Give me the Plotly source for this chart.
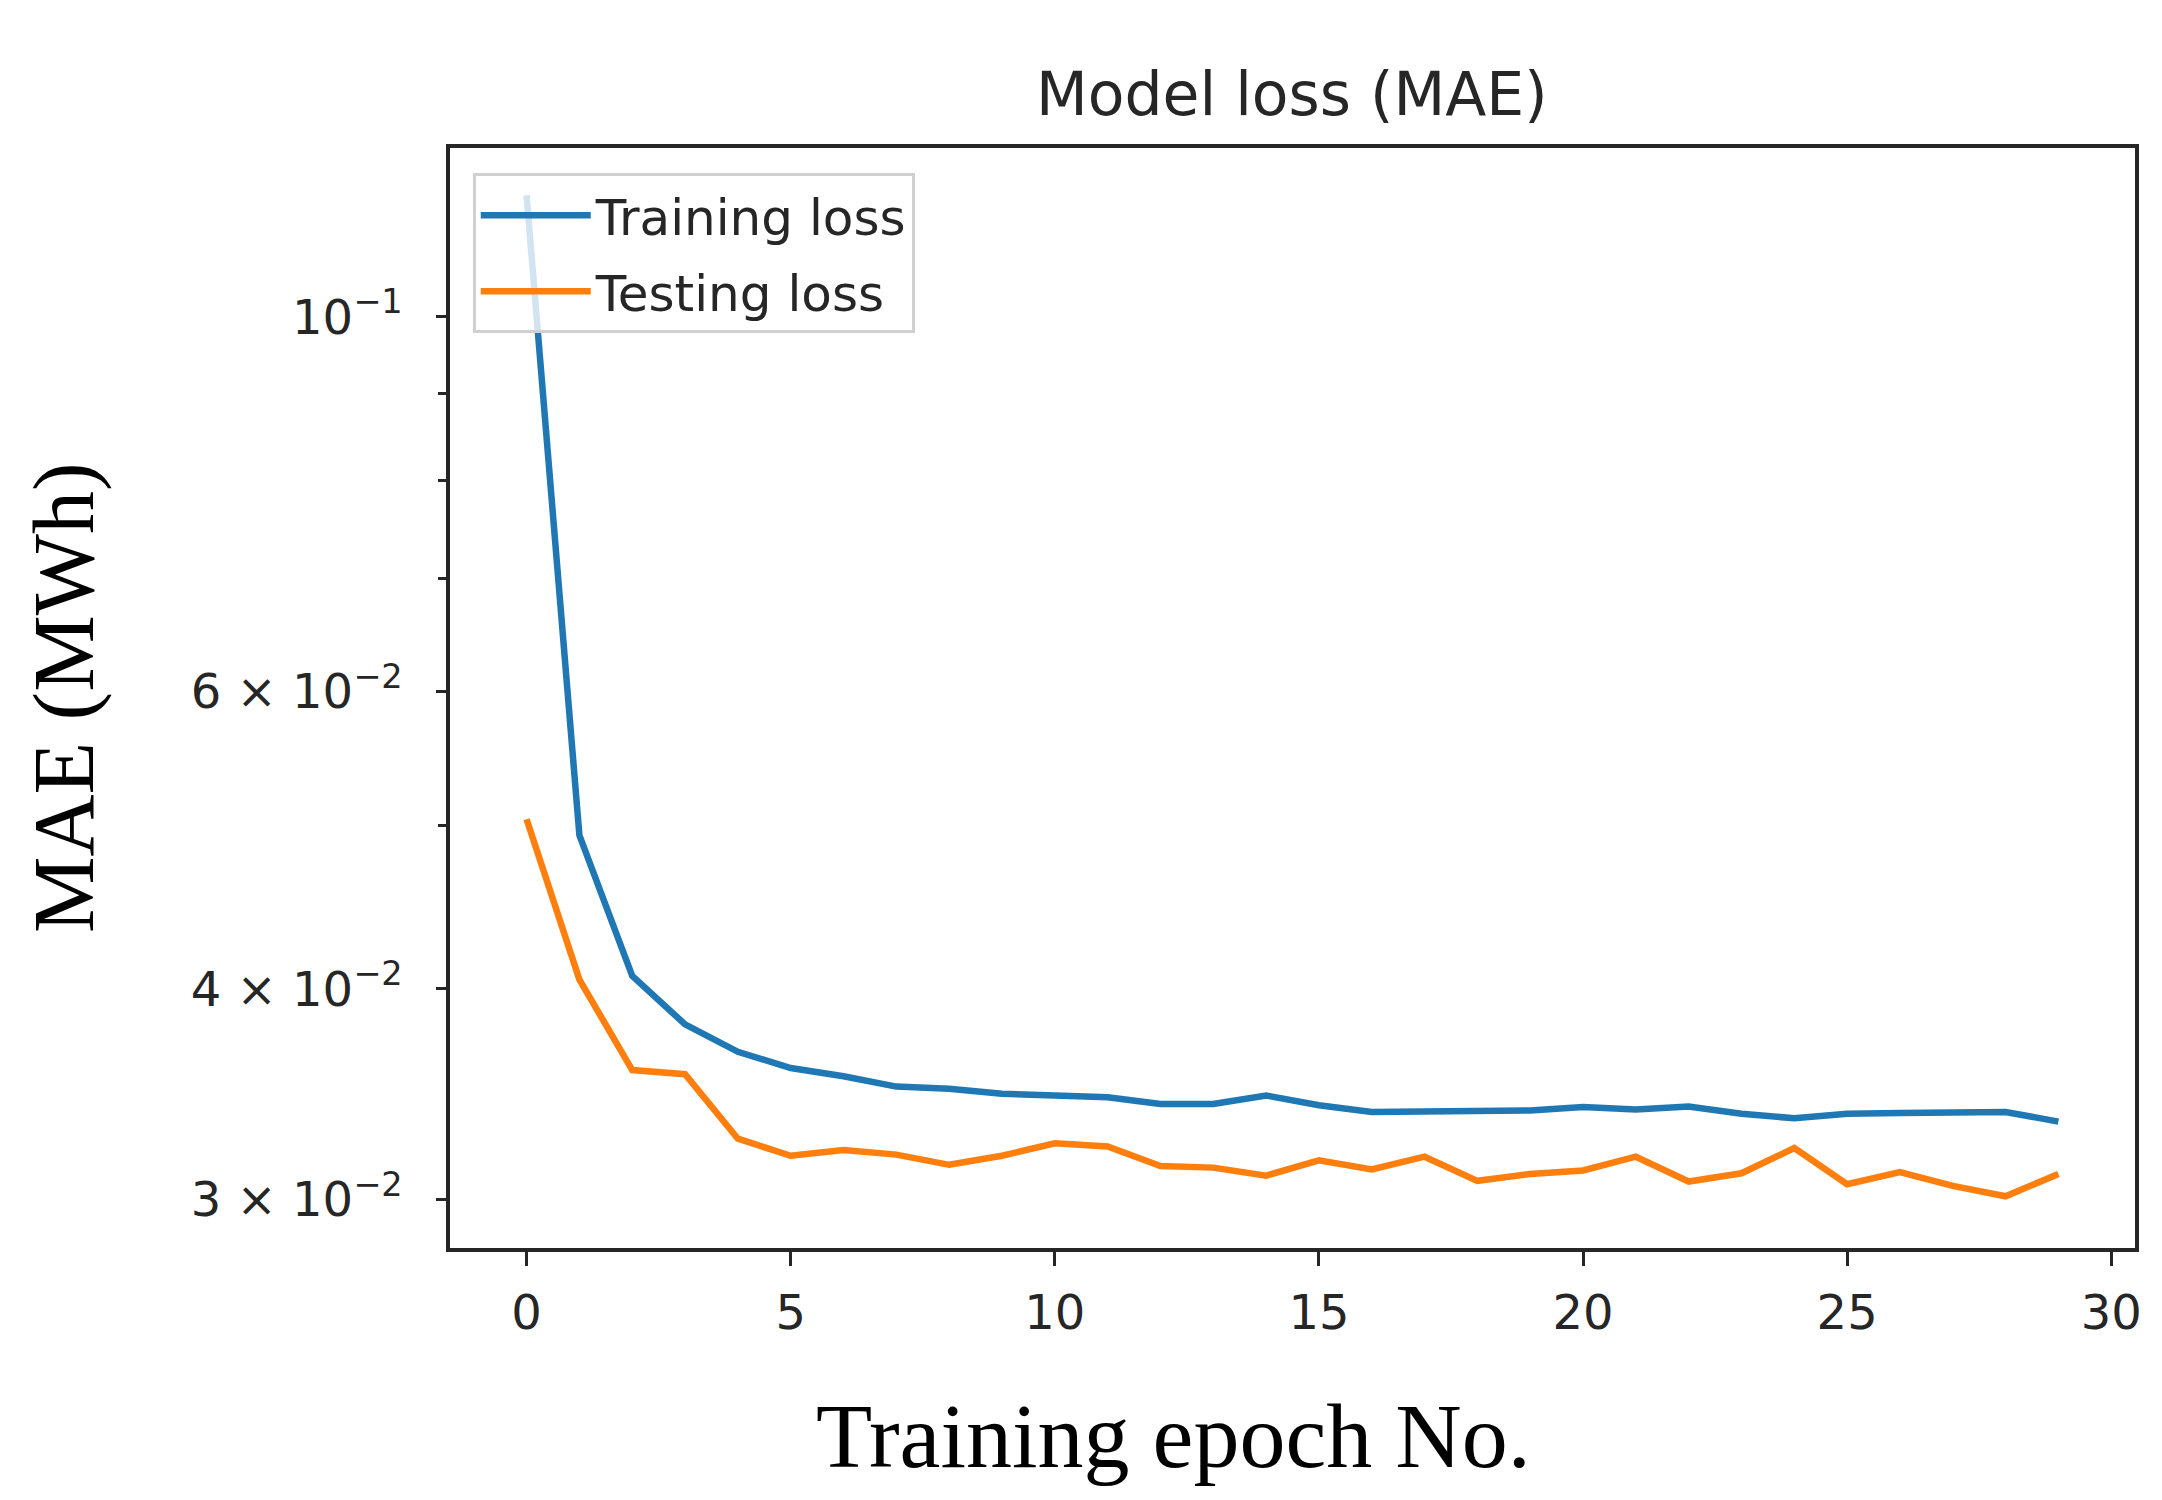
import plotly.graph_objects as go

epochs = list(range(30))
training_loss = [0.118, 0.0493, 0.0407, 0.0381, 0.0367, 0.0359, 0.0355, 0.0350, 0.0349, 0.03466,
                 0.03458, 0.0345, 0.03418, 0.03418, 0.03458, 0.03412, 0.03381, 0.03381, 0.03381, 0.03388,
                 0.03404, 0.03392, 0.03406, 0.03373, 0.03352, 0.03373, 0.03376, 0.03381, 0.03381, 0.03337]
testing_loss = [0.0504, 0.0405, 0.0358, 0.0356, 0.0326, 0.03185, 0.0321, 0.0319, 0.03146, 0.03185,
                0.0324, 0.03226, 0.03141, 0.03134, 0.0310, 0.03165, 0.03126, 0.03181, 0.03078, 0.03107,
                0.03122, 0.03181, 0.03075, 0.0311, 0.03219, 0.03064, 0.03115, 0.03057, 0.03014, 0.03107]

x_ticks = [0, 5, 10, 15, 20, 25, 30]
y_ticks = [0.03, 0.04, 0.06, 0.1]
y_ticktext = ["3 × 10<sup>−2</sup>", "4 × 10<sup>−2</sup>", "6 × 10<sup>−2</sup>", "10<sup>−1</sup>"]
y_minor = [0.05, 0.07, 0.08, 0.09]

fig = go.Figure()
fig.add_trace(go.Scatter(x=epochs, y=training_loss, mode="lines", name="Training loss",
                         legendgroup="train", line=dict(color="#1f77b4", width=6.5)))
fig.add_trace(go.Scatter(x=epochs, y=testing_loss, mode="lines", name="Testing loss",
                         legendgroup="test", line=dict(color="#ff7f0e", width=6.5)))

axis_common = dict(showline=True, linecolor="#262626", linewidth=3.5, mirror=True,
                   showgrid=False, zeroline=False, ticks="outside", tickcolor="#262626",
                   tickwidth=3, tickfont=dict(family="DejaVu Sans", size=48, color="#262626"))

fig.update_xaxes(range=[-1.45, 30.45], tickvals=x_ticks, ticklen=14, ticklabelstandoff=6, **axis_common)
fig.update_yaxes(type="log", range=[-1.5515, -0.9001], tickvals=y_ticks, ticktext=y_ticktext,
                 ticklen=10, ticklabelstandoff=24,
                 minor=dict(tickvals=y_minor, ticklen=8, ticks="outside", tickcolor="#262626", tickwidth=3),
                 **axis_common)

fig.update_layout(
    width=2162, height=1500,
    margin=dict(l=442, r=35, t=140, b=260),
    paper_bgcolor="white", plot_bgcolor="white",
    showlegend=True,
    legend=dict(x=0.0135, y=0.977, xanchor="left", yanchor="top",
                bgcolor="rgba(255,255,255,0.8)", bordercolor="#d0d0d0", borderwidth=3,
                font=dict(family="DejaVu Sans", size=50, color="#262626"),
                itemwidth=110, tracegroupgap=8),
    title=dict(text="Model loss (MAE)", x=0.5938, xanchor="center",
               y=1 - 86 / 1500, yanchor="middle",
               font=dict(family="DejaVu Sans", size=60, color="#262626")),
    annotations=[
        dict(text="Training epoch No.", xref="paper", yref="paper", x=(1165 - 442) / 1685, y=-(1428 - 1240) / 1100,
             xanchor="center", yanchor="middle", showarrow=False,
             font=dict(family="Liberation Serif", size=92, color="black")),
        dict(text="MAE (MWh)", xref="paper", yref="paper", x=-(442 - 56) / 1685, y=(1240 - 690) / 1100,
             xanchor="center", yanchor="middle", showarrow=False, textangle=-90,
             font=dict(family="Liberation Serif", size=86, color="black")),
    ],
)

fig.write_html("out.html")
